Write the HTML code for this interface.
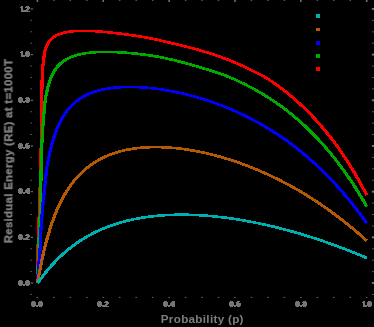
<!DOCTYPE html>
<html><head><meta charset="utf-8"><style>
html,body{margin:0;padding:0;background:#000;}
body{width:374px;height:327px;overflow:hidden;position:relative;}
svg{position:absolute;left:0;top:0;}
.tl{font-family:"Liberation Sans",sans-serif;font-weight:bold;font-size:7.6px;fill:#7e7e7e;stroke:#7e7e7e;stroke-width:1.3px;stroke-linejoin:miter;}
.ax{font-family:"Liberation Sans",sans-serif;font-weight:bold;font-size:12px;fill:#7e7e7e;letter-spacing:0.3px;}
</style></head><body>
<svg width="374" height="327" viewBox="0 0 374 327">
<defs><filter id="bl" x="-5%" y="-20%" width="110%" height="140%"><feGaussianBlur stdDeviation="0.35"/></filter><filter id="bl2" x="-10%" y="-30%" width="120%" height="160%"><feGaussianBlur stdDeviation="0.4"/></filter></defs>
<rect width="374" height="327" fill="#000"/>
<g><rect x="30.4" y="293.92" width="1.7" height="1.0" fill="#5a5a5a"/><rect x="372" y="293.92" width="1.7" height="1.1" fill="#5a5a5a"/><rect x="30.6" y="282.50" width="2.5" height="1.1" fill="#707070"/><rect x="371.8" y="282.00" width="2.2" height="2.0" fill="#707070"/><rect x="30.4" y="271.08" width="1.7" height="1.0" fill="#5a5a5a"/><rect x="372" y="271.08" width="1.7" height="1.1" fill="#5a5a5a"/><rect x="30.4" y="259.66" width="1.7" height="1.0" fill="#5a5a5a"/><rect x="372" y="259.66" width="1.7" height="1.1" fill="#5a5a5a"/><rect x="30.4" y="248.24" width="1.7" height="1.0" fill="#5a5a5a"/><rect x="372" y="248.24" width="1.7" height="1.1" fill="#5a5a5a"/><rect x="30.6" y="236.82" width="2.5" height="1.1" fill="#707070"/><rect x="371.8" y="236.32" width="2.2" height="2.0" fill="#707070"/><rect x="30.4" y="225.40" width="1.7" height="1.0" fill="#5a5a5a"/><rect x="372" y="225.40" width="1.7" height="1.1" fill="#5a5a5a"/><rect x="30.4" y="213.98" width="1.7" height="1.0" fill="#5a5a5a"/><rect x="372" y="213.98" width="1.7" height="1.1" fill="#5a5a5a"/><rect x="30.4" y="202.56" width="1.7" height="1.0" fill="#5a5a5a"/><rect x="372" y="202.56" width="1.7" height="1.1" fill="#5a5a5a"/><rect x="30.6" y="191.14" width="2.5" height="1.1" fill="#707070"/><rect x="371.8" y="190.64" width="2.2" height="2.0" fill="#707070"/><rect x="30.4" y="179.72" width="1.7" height="1.0" fill="#5a5a5a"/><rect x="372" y="179.72" width="1.7" height="1.1" fill="#5a5a5a"/><rect x="30.4" y="168.30" width="1.7" height="1.0" fill="#5a5a5a"/><rect x="372" y="168.30" width="1.7" height="1.1" fill="#5a5a5a"/><rect x="30.4" y="156.88" width="1.7" height="1.0" fill="#5a5a5a"/><rect x="372" y="156.88" width="1.7" height="1.1" fill="#5a5a5a"/><rect x="30.6" y="145.46" width="2.5" height="1.1" fill="#707070"/><rect x="371.8" y="144.96" width="2.2" height="2.0" fill="#707070"/><rect x="30.4" y="134.04" width="1.7" height="1.0" fill="#5a5a5a"/><rect x="372" y="134.04" width="1.7" height="1.1" fill="#5a5a5a"/><rect x="30.4" y="122.62" width="1.7" height="1.0" fill="#5a5a5a"/><rect x="372" y="122.62" width="1.7" height="1.1" fill="#5a5a5a"/><rect x="30.4" y="111.20" width="1.7" height="1.0" fill="#5a5a5a"/><rect x="372" y="111.20" width="1.7" height="1.1" fill="#5a5a5a"/><rect x="30.6" y="99.78" width="2.5" height="1.1" fill="#707070"/><rect x="371.8" y="99.28" width="2.2" height="2.0" fill="#707070"/><rect x="30.4" y="88.36" width="1.7" height="1.0" fill="#5a5a5a"/><rect x="372" y="88.36" width="1.7" height="1.1" fill="#5a5a5a"/><rect x="30.4" y="76.94" width="1.7" height="1.0" fill="#5a5a5a"/><rect x="372" y="76.94" width="1.7" height="1.1" fill="#5a5a5a"/><rect x="30.4" y="65.52" width="1.7" height="1.0" fill="#5a5a5a"/><rect x="372" y="65.52" width="1.7" height="1.1" fill="#5a5a5a"/><rect x="30.6" y="54.10" width="2.5" height="1.1" fill="#707070"/><rect x="371.8" y="53.60" width="2.2" height="2.0" fill="#707070"/><rect x="30.4" y="42.68" width="1.7" height="1.0" fill="#5a5a5a"/><rect x="372" y="42.68" width="1.7" height="1.1" fill="#5a5a5a"/><rect x="30.4" y="31.26" width="1.7" height="1.0" fill="#5a5a5a"/><rect x="372" y="31.26" width="1.7" height="1.1" fill="#5a5a5a"/><rect x="30.4" y="19.84" width="1.7" height="1.0" fill="#5a5a5a"/><rect x="372" y="19.84" width="1.7" height="1.1" fill="#5a5a5a"/><rect x="30.6" y="8.42" width="2.5" height="1.1" fill="#707070"/><rect x="371.8" y="7.92" width="2.2" height="2.0" fill="#707070"/><rect x="36.60" y="296.9" width="1.6" height="1.1" fill="#5a5a5a"/><rect x="36.60" y="0" width="1.6" height="2.0" fill="#707070"/><rect x="53.06" y="296.9" width="1.6" height="1.1" fill="#5a5a5a"/><rect x="53.16" y="0" width="1.4" height="1.0" fill="#5a5a5a"/><rect x="69.53" y="296.9" width="1.6" height="1.1" fill="#5a5a5a"/><rect x="69.63" y="0" width="1.4" height="1.0" fill="#5a5a5a"/><rect x="86.00" y="296.9" width="1.6" height="1.1" fill="#5a5a5a"/><rect x="86.10" y="0" width="1.4" height="1.0" fill="#5a5a5a"/><rect x="102.46" y="296.9" width="1.6" height="1.1" fill="#5a5a5a"/><rect x="102.46" y="0" width="1.6" height="2.0" fill="#707070"/><rect x="118.92" y="296.9" width="1.6" height="1.1" fill="#5a5a5a"/><rect x="119.02" y="0" width="1.4" height="1.0" fill="#5a5a5a"/><rect x="135.39" y="296.9" width="1.6" height="1.1" fill="#5a5a5a"/><rect x="135.49" y="0" width="1.4" height="1.0" fill="#5a5a5a"/><rect x="151.85" y="296.9" width="1.6" height="1.1" fill="#5a5a5a"/><rect x="151.96" y="0" width="1.4" height="1.0" fill="#5a5a5a"/><rect x="168.32" y="296.9" width="1.6" height="1.1" fill="#5a5a5a"/><rect x="168.32" y="0" width="1.6" height="2.0" fill="#707070"/><rect x="184.78" y="296.9" width="1.6" height="1.1" fill="#5a5a5a"/><rect x="184.89" y="0" width="1.4" height="1.0" fill="#5a5a5a"/><rect x="201.25" y="296.9" width="1.6" height="1.1" fill="#5a5a5a"/><rect x="201.35" y="0" width="1.4" height="1.0" fill="#5a5a5a"/><rect x="217.72" y="296.9" width="1.6" height="1.1" fill="#5a5a5a"/><rect x="217.82" y="0" width="1.4" height="1.0" fill="#5a5a5a"/><rect x="234.18" y="296.9" width="1.6" height="1.1" fill="#5a5a5a"/><rect x="234.18" y="0" width="1.6" height="2.0" fill="#707070"/><rect x="250.65" y="296.9" width="1.6" height="1.1" fill="#5a5a5a"/><rect x="250.75" y="0" width="1.4" height="1.0" fill="#5a5a5a"/><rect x="267.11" y="296.9" width="1.6" height="1.1" fill="#5a5a5a"/><rect x="267.21" y="0" width="1.4" height="1.0" fill="#5a5a5a"/><rect x="283.57" y="296.9" width="1.6" height="1.1" fill="#5a5a5a"/><rect x="283.68" y="0" width="1.4" height="1.0" fill="#5a5a5a"/><rect x="300.04" y="296.9" width="1.6" height="1.1" fill="#5a5a5a"/><rect x="300.04" y="0" width="1.6" height="2.0" fill="#707070"/><rect x="316.50" y="296.9" width="1.6" height="1.1" fill="#5a5a5a"/><rect x="316.61" y="0" width="1.4" height="1.0" fill="#5a5a5a"/><rect x="332.97" y="296.9" width="1.6" height="1.1" fill="#5a5a5a"/><rect x="333.07" y="0" width="1.4" height="1.0" fill="#5a5a5a"/><rect x="349.44" y="296.9" width="1.6" height="1.1" fill="#5a5a5a"/><rect x="349.54" y="0" width="1.4" height="1.0" fill="#5a5a5a"/><rect x="365.90" y="296.9" width="1.6" height="1.1" fill="#5a5a5a"/><rect x="365.90" y="0" width="1.6" height="2.0" fill="#707070"/></g>
<path filter="url(#bl2)" fill="#747474" d="M19,280h3v1h-3zM18,281h5v1h-5zM18,282h5v1h-5zM18,283h5v1h-5zM18,284h5v1h-5zM19,285h3v1h-3zM23,284h2v1h-2zM23,285h2v1h-2zM26,280h3v1h-3zM25,281h5v1h-5zM25,282h5v1h-5zM25,283h5v1h-5zM25,284h5v1h-5zM26,285h3v1h-3zM19,234h3v1h-3zM18,235h5v1h-5zM18,236h5v1h-5zM18,237h5v1h-5zM18,238h5v1h-5zM19,239h3v1h-3zM23,238h2v1h-2zM23,239h2v1h-2zM26,234h3v1h-3zM25,235h5v1h-5zM27,236h3v1h-3zM26,237h3v1h-3zM25,238h3v1h-3zM25,239h5v1h-5zM19,188h3v1h-3zM18,189h5v1h-5zM18,190h5v1h-5zM18,191h5v1h-5zM18,192h5v1h-5zM19,193h3v1h-3zM23,192h2v1h-2zM23,193h2v1h-2zM27,188h3v1h-3zM26,189h4v1h-4zM25,190h5v1h-5zM25,191h5v1h-5zM25,192h5v1h-5zM27,193h3v1h-3zM19,143h3v1h-3zM18,144h5v1h-5zM18,145h5v1h-5zM18,146h5v1h-5zM18,147h5v1h-5zM19,148h3v1h-3zM23,147h2v1h-2zM23,148h2v1h-2zM26,143h3v1h-3zM25,144h3v1h-3zM25,145h5v1h-5zM25,146h5v1h-5zM25,147h5v1h-5zM26,148h3v1h-3zM19,97h3v1h-3zM18,98h5v1h-5zM18,99h5v1h-5zM18,100h5v1h-5zM18,101h5v1h-5zM19,102h3v1h-3zM23,101h2v1h-2zM23,102h2v1h-2zM26,97h3v1h-3zM25,98h5v1h-5zM26,99h4v1h-4zM25,100h5v1h-5zM25,101h5v1h-5zM26,102h3v1h-3zM21,51h2v1h-2zM20,52h3v1h-3zM21,53h2v1h-2zM21,54h2v1h-2zM21,55h2v1h-2zM21,56h2v1h-2zM23,55h2v1h-2zM23,56h2v1h-2zM26,51h3v1h-3zM25,52h5v1h-5zM25,53h5v1h-5zM25,54h5v1h-5zM25,55h5v1h-5zM26,56h3v1h-3zM21,6h2v1h-2zM20,7h3v1h-3zM21,8h2v1h-2zM21,9h2v1h-2zM21,10h2v1h-2zM21,11h2v1h-2zM23,10h2v1h-2zM23,11h2v1h-2zM26,6h3v1h-3zM25,7h5v1h-5zM27,8h3v1h-3zM26,9h3v1h-3zM25,10h3v1h-3zM25,11h5v1h-5zM32,301h3v1h-3zM31,302h5v1h-5zM31,303h5v1h-5zM31,304h5v1h-5zM31,305h5v1h-5zM32,306h3v1h-3zM36,305h2v1h-2zM36,306h2v1h-2zM39,301h3v1h-3zM38,302h5v1h-5zM38,303h5v1h-5zM38,304h5v1h-5zM38,305h5v1h-5zM39,306h3v1h-3zM98,301h3v1h-3zM97,302h5v1h-5zM97,303h5v1h-5zM97,304h5v1h-5zM97,305h5v1h-5zM98,306h3v1h-3zM102,305h2v1h-2zM102,306h2v1h-2zM105,301h3v1h-3zM104,302h5v1h-5zM106,303h3v1h-3zM105,304h3v1h-3zM104,305h3v1h-3zM104,306h5v1h-5zM164,301h3v1h-3zM163,302h5v1h-5zM163,303h5v1h-5zM163,304h5v1h-5zM163,305h5v1h-5zM164,306h3v1h-3zM168,305h2v1h-2zM168,306h2v1h-2zM172,301h3v1h-3zM171,302h4v1h-4zM170,303h5v1h-5zM170,304h5v1h-5zM170,305h5v1h-5zM172,306h3v1h-3zM230,301h3v1h-3zM229,302h5v1h-5zM229,303h5v1h-5zM229,304h5v1h-5zM229,305h5v1h-5zM230,306h3v1h-3zM234,305h2v1h-2zM234,306h2v1h-2zM237,301h3v1h-3zM236,302h3v1h-3zM236,303h5v1h-5zM236,304h5v1h-5zM236,305h5v1h-5zM237,306h3v1h-3zM296,301h3v1h-3zM295,302h5v1h-5zM295,303h5v1h-5zM295,304h5v1h-5zM295,305h5v1h-5zM296,306h3v1h-3zM300,305h2v1h-2zM300,306h2v1h-2zM303,301h3v1h-3zM302,302h5v1h-5zM303,303h4v1h-4zM302,304h5v1h-5zM302,305h5v1h-5zM303,306h3v1h-3zM363,301h2v1h-2zM362,302h3v1h-3zM363,303h2v1h-2zM363,304h2v1h-2zM363,305h2v1h-2zM363,306h2v1h-2zM365,305h2v1h-2zM365,306h2v1h-2zM368,301h3v1h-3zM367,302h5v1h-5zM367,303h5v1h-5zM367,304h5v1h-5zM367,305h5v1h-5zM368,306h3v1h-3z"/>
<g fill="none" stroke-width="2.6" stroke-linejoin="round" stroke-linecap="butt" shape-rendering="crispEdges">
<g stroke="#ff0000"><path transform="translate(-0.3,0)" d="M37.40,283.00 L37.90,250.00 L39.20,215.00 L40.50,175.00 L41.30,140.00 L41.50,115.00 L41.70,100.00 L42.10,80.00 L42.90,66.00 L43.70,60.00 L44.68,51.13 L44.93,50.32 L45.18,49.56 L45.42,48.84 L45.67,48.17 L45.92,47.53 L46.17,46.92 L46.42,46.35 L46.67,45.80 L46.92,45.28 L47.17,44.78 L47.42,44.31 L47.67,43.86 L47.92,43.43 L48.16,43.02 L48.41,42.63 L48.66,42.25 L48.91,41.89 L49.16,41.55 L49.41,41.21 L49.66,40.89 L49.91,40.59 L50.16,40.29 L50.41,40.01 L50.66,39.74 L50.90,39.47 L51.15,39.22 L51.40,38.97 L51.65,38.74 L51.90,38.51 L52.15,38.29 L52.40,38.07 L52.65,37.87 L52.90,37.67 L53.15,37.48 L53.39,37.29 L53.64,37.11 L53.89,36.93 L54.14,36.76 L54.39,36.60 L54.64,36.44 L54.89,36.28 L55.14,36.13 L55.39,35.98 L55.64,35.84 L55.89,35.70 L56.13,35.57 L56.38,35.44 L56.63,35.31 L56.88,35.19 L57.13,35.07 L57.38,34.95 L57.63,34.84 L57.88,34.73 L58.13,34.62 L58.38,34.51 L58.62,34.41 L58.87,34.31 L59.12,34.21 L59.37,34.12 L59.62,34.03 L59.87,33.94 L60.12,33.85 L60.37,33.76 L60.62,33.68 L60.87,33.60 L61.12,33.52 L61.36,33.44 L61.61,33.37 L61.86,33.29 L62.11,33.22 L62.36,33.15 L62.61,33.08 L62.86,33.01 L63.11,32.95 L63.36,32.88 L63.61,32.82 L63.85,32.76 L64.10,32.70 L64.35,32.64 L64.60,32.59 L64.85,32.53 L65.10,32.48 L65.35,32.43 L65.60,32.37 L65.85,32.32 L66.10,32.27 L66.35,32.23 L66.59,32.18 L66.84,32.13 L67.09,32.09 L67.34,32.05 L67.59,32.00 L67.84,31.96 L68.09,31.92 L68.34,31.88 L68.59,31.84 L68.84,31.81 L69.08,31.77 L69.33,31.73 L69.58,31.70 L69.83,31.66 L70.08,31.63 L70.33,31.60 L71.82,31.42 L73.31,31.27 L74.80,31.15 L76.29,31.04 L77.78,30.96 L79.27,30.90 L80.76,30.85 L82.24,30.83 L83.73,30.82 L85.22,30.82 L86.71,30.84 L88.20,30.88 L89.69,30.92 L91.18,30.98 L92.67,31.05 L94.16,31.13 L95.65,31.22 L97.14,31.32 L98.63,31.43 L100.12,31.55 L101.61,31.67 L103.09,31.80 L104.58,31.94 L106.07,32.08 L107.56,32.23 L109.05,32.39 L110.54,32.55 L112.03,32.71 L113.52,32.88 L115.01,33.05 L116.50,33.22 L117.99,33.40 L119.48,33.58 L120.97,33.77 L122.46,33.95 L123.94,34.15 L125.43,34.34 L126.92,34.54 L128.41,34.75 L129.90,34.96 L131.39,35.17 L132.88,35.39 L134.37,35.61 L135.86,35.84 L137.35,36.08 L138.84,36.32 L140.33,36.56 L141.82,36.81 L143.31,37.06 L144.79,37.33 L146.28,37.59 L147.77,37.86 L149.26,38.14 L150.75,38.43 L152.24,38.73 L153.73,39.03 L155.22,39.35 L156.71,39.67 L158.20,40.00 L159.69,40.34 L161.18,40.68 L162.67,41.03 L164.16,41.38 L165.64,41.73 L167.13,42.08 L168.62,42.44 L170.11,42.79 L171.60,43.14 L173.09,43.49 L174.58,43.84 L176.07,44.18 L177.56,44.53 L179.05,44.88 L180.54,45.24 L182.03,45.60 L183.52,45.96 L185.01,46.32 L186.50,46.69 L187.98,47.07 L189.47,47.45 L190.96,47.84 L192.45,48.23 L193.94,48.63 L195.43,49.04 L196.92,49.45 L198.41,49.88 L199.90,50.31 L201.39,50.75 L202.88,51.19 L204.37,51.64 L205.86,52.10 L207.35,52.56 L208.83,53.03 L210.32,53.51 L211.81,53.99 L213.30,54.48 L214.79,54.98 L216.28,55.49 L217.77,56.01 L219.26,56.53 L220.75,57.06 L222.24,57.60 L223.73,58.15 L225.22,58.71 L226.71,59.28 L228.20,59.86 L229.68,60.44 L231.17,61.04 L232.66,61.64 L234.15,62.26 L235.64,62.88 L237.13,63.51 L238.62,64.15 L240.11,64.80 L241.60,65.46 L243.09,66.13 L244.58,66.81 L246.07,67.51 L247.56,68.21 L249.05,68.93 L250.53,69.66 L252.02,70.39 L253.51,71.13 L255.00,71.87 L256.49,72.62 L257.98,73.39 L259.47,74.17 L260.96,74.97 L262.45,75.79 L263.94,76.63 L265.43,77.50 L266.92,78.40 L268.41,79.33 L269.90,80.30 L271.39,81.29 L272.87,82.31 L274.36,83.34 L275.85,84.38 L277.34,85.45 L278.83,86.53 L280.32,87.63 L281.81,88.75 L283.30,89.89 L284.79,91.04 L286.28,92.22 L287.77,93.41 L289.26,94.62 L290.75,95.86 L292.24,97.11 L293.72,98.39 L295.21,99.68 L296.70,101.00 L298.19,102.34 L299.68,103.70 L301.17,105.08 L302.66,106.49 L304.15,107.92 L305.64,109.37 L307.13,110.84 L308.62,112.34 L310.11,113.86 L311.60,115.41 L313.09,116.98 L314.57,118.57 L316.06,120.19 L317.55,121.84 L319.04,123.51 L320.53,125.21 L322.02,126.94 L323.51,128.70 L325.00,130.48 L326.49,132.29 L327.98,134.13 L329.47,136.00 L330.96,137.90 L332.45,139.84 L333.94,141.81 L335.42,143.82 L336.91,145.87 L338.40,147.96 L339.89,150.08 L341.38,152.23 L342.87,154.43 L344.36,156.66 L345.85,158.93 L347.34,161.23 L348.83,163.57 L350.32,165.95 L351.81,168.37 L353.30,170.84 L354.79,173.35 L356.27,175.91 L357.76,178.51 L359.25,181.16 L360.74,183.85 L362.23,186.59 L363.72,189.38 L365.21,192.21 L366.70,195.09"/><path transform="translate(0.3,0)" d="M37.40,283.00 L37.90,250.00 L39.20,215.00 L40.50,175.00 L41.30,140.00 L41.50,115.00 L41.70,100.00 L42.10,80.00 L42.90,66.00 L43.70,60.00 L44.68,51.13 L44.93,50.32 L45.18,49.56 L45.42,48.84 L45.67,48.17 L45.92,47.53 L46.17,46.92 L46.42,46.35 L46.67,45.80 L46.92,45.28 L47.17,44.78 L47.42,44.31 L47.67,43.86 L47.92,43.43 L48.16,43.02 L48.41,42.63 L48.66,42.25 L48.91,41.89 L49.16,41.55 L49.41,41.21 L49.66,40.89 L49.91,40.59 L50.16,40.29 L50.41,40.01 L50.66,39.74 L50.90,39.47 L51.15,39.22 L51.40,38.97 L51.65,38.74 L51.90,38.51 L52.15,38.29 L52.40,38.07 L52.65,37.87 L52.90,37.67 L53.15,37.48 L53.39,37.29 L53.64,37.11 L53.89,36.93 L54.14,36.76 L54.39,36.60 L54.64,36.44 L54.89,36.28 L55.14,36.13 L55.39,35.98 L55.64,35.84 L55.89,35.70 L56.13,35.57 L56.38,35.44 L56.63,35.31 L56.88,35.19 L57.13,35.07 L57.38,34.95 L57.63,34.84 L57.88,34.73 L58.13,34.62 L58.38,34.51 L58.62,34.41 L58.87,34.31 L59.12,34.21 L59.37,34.12 L59.62,34.03 L59.87,33.94 L60.12,33.85 L60.37,33.76 L60.62,33.68 L60.87,33.60 L61.12,33.52 L61.36,33.44 L61.61,33.37 L61.86,33.29 L62.11,33.22 L62.36,33.15 L62.61,33.08 L62.86,33.01 L63.11,32.95 L63.36,32.88 L63.61,32.82 L63.85,32.76 L64.10,32.70 L64.35,32.64 L64.60,32.59 L64.85,32.53 L65.10,32.48 L65.35,32.43 L65.60,32.37 L65.85,32.32 L66.10,32.27 L66.35,32.23 L66.59,32.18 L66.84,32.13 L67.09,32.09 L67.34,32.05 L67.59,32.00 L67.84,31.96 L68.09,31.92 L68.34,31.88 L68.59,31.84 L68.84,31.81 L69.08,31.77 L69.33,31.73 L69.58,31.70 L69.83,31.66 L70.08,31.63 L70.33,31.60 L71.82,31.42 L73.31,31.27 L74.80,31.15 L76.29,31.04 L77.78,30.96 L79.27,30.90 L80.76,30.85 L82.24,30.83 L83.73,30.82 L85.22,30.82 L86.71,30.84 L88.20,30.88 L89.69,30.92 L91.18,30.98 L92.67,31.05 L94.16,31.13 L95.65,31.22 L97.14,31.32 L98.63,31.43 L100.12,31.55 L101.61,31.67 L103.09,31.80 L104.58,31.94 L106.07,32.08 L107.56,32.23 L109.05,32.39 L110.54,32.55 L112.03,32.71 L113.52,32.88 L115.01,33.05 L116.50,33.22 L117.99,33.40 L119.48,33.58 L120.97,33.77 L122.46,33.95 L123.94,34.15 L125.43,34.34 L126.92,34.54 L128.41,34.75 L129.90,34.96 L131.39,35.17 L132.88,35.39 L134.37,35.61 L135.86,35.84 L137.35,36.08 L138.84,36.32 L140.33,36.56 L141.82,36.81 L143.31,37.06 L144.79,37.33 L146.28,37.59 L147.77,37.86 L149.26,38.14 L150.75,38.43 L152.24,38.73 L153.73,39.03 L155.22,39.35 L156.71,39.67 L158.20,40.00 L159.69,40.34 L161.18,40.68 L162.67,41.03 L164.16,41.38 L165.64,41.73 L167.13,42.08 L168.62,42.44 L170.11,42.79 L171.60,43.14 L173.09,43.49 L174.58,43.84 L176.07,44.18 L177.56,44.53 L179.05,44.88 L180.54,45.24 L182.03,45.60 L183.52,45.96 L185.01,46.32 L186.50,46.69 L187.98,47.07 L189.47,47.45 L190.96,47.84 L192.45,48.23 L193.94,48.63 L195.43,49.04 L196.92,49.45 L198.41,49.88 L199.90,50.31 L201.39,50.75 L202.88,51.19 L204.37,51.64 L205.86,52.10 L207.35,52.56 L208.83,53.03 L210.32,53.51 L211.81,53.99 L213.30,54.48 L214.79,54.98 L216.28,55.49 L217.77,56.01 L219.26,56.53 L220.75,57.06 L222.24,57.60 L223.73,58.15 L225.22,58.71 L226.71,59.28 L228.20,59.86 L229.68,60.44 L231.17,61.04 L232.66,61.64 L234.15,62.26 L235.64,62.88 L237.13,63.51 L238.62,64.15 L240.11,64.80 L241.60,65.46 L243.09,66.13 L244.58,66.81 L246.07,67.51 L247.56,68.21 L249.05,68.93 L250.53,69.66 L252.02,70.39 L253.51,71.13 L255.00,71.87 L256.49,72.62 L257.98,73.39 L259.47,74.17 L260.96,74.97 L262.45,75.79 L263.94,76.63 L265.43,77.50 L266.92,78.40 L268.41,79.33 L269.90,80.30 L271.39,81.29 L272.87,82.31 L274.36,83.34 L275.85,84.38 L277.34,85.45 L278.83,86.53 L280.32,87.63 L281.81,88.75 L283.30,89.89 L284.79,91.04 L286.28,92.22 L287.77,93.41 L289.26,94.62 L290.75,95.86 L292.24,97.11 L293.72,98.39 L295.21,99.68 L296.70,101.00 L298.19,102.34 L299.68,103.70 L301.17,105.08 L302.66,106.49 L304.15,107.92 L305.64,109.37 L307.13,110.84 L308.62,112.34 L310.11,113.86 L311.60,115.41 L313.09,116.98 L314.57,118.57 L316.06,120.19 L317.55,121.84 L319.04,123.51 L320.53,125.21 L322.02,126.94 L323.51,128.70 L325.00,130.48 L326.49,132.29 L327.98,134.13 L329.47,136.00 L330.96,137.90 L332.45,139.84 L333.94,141.81 L335.42,143.82 L336.91,145.87 L338.40,147.96 L339.89,150.08 L341.38,152.23 L342.87,154.43 L344.36,156.66 L345.85,158.93 L347.34,161.23 L348.83,163.57 L350.32,165.95 L351.81,168.37 L353.30,170.84 L354.79,173.35 L356.27,175.91 L357.76,178.51 L359.25,181.16 L360.74,183.85 L362.23,186.59 L363.72,189.38 L365.21,192.21 L366.70,195.09"/></g>
<g stroke="#00aa00"><path transform="translate(-0.3,0)" d="M37.40,283.00 L38.30,260.00 L39.20,235.00 L40.60,205.00 L41.00,175.00 L41.60,150.00 L42.30,135.00 L43.30,120.00 L45.20,100.00 L46.17,94.88 L46.42,93.64 L46.67,92.45 L46.92,91.32 L47.17,90.23 L47.42,89.19 L47.67,88.18 L47.92,87.22 L48.16,86.29 L48.41,85.40 L48.66,84.55 L48.91,83.72 L49.16,82.92 L49.41,82.15 L49.66,81.41 L49.91,80.69 L50.16,80.00 L50.41,79.33 L50.66,78.68 L50.90,78.06 L51.15,77.45 L51.40,76.86 L51.65,76.29 L51.90,75.74 L52.15,75.20 L52.40,74.68 L52.65,74.18 L52.90,73.69 L53.15,73.21 L53.39,72.75 L53.64,72.30 L53.89,71.86 L54.14,71.44 L54.39,71.02 L54.64,70.62 L54.89,70.23 L55.14,69.85 L55.39,69.47 L55.64,69.11 L55.89,68.76 L56.13,68.41 L56.38,68.08 L56.63,67.75 L56.88,67.43 L57.13,67.11 L57.38,66.81 L57.63,66.51 L57.88,66.22 L58.13,65.94 L58.38,65.66 L58.62,65.39 L58.87,65.12 L59.12,64.86 L59.37,64.61 L59.62,64.36 L59.87,64.12 L60.12,63.88 L60.37,63.65 L60.62,63.42 L60.87,63.20 L61.12,62.98 L61.36,62.77 L61.61,62.56 L61.86,62.35 L62.11,62.15 L62.36,61.96 L62.61,61.76 L62.86,61.58 L63.11,61.39 L63.36,61.21 L63.61,61.03 L63.85,60.86 L64.10,60.69 L64.35,60.52 L64.60,60.36 L64.85,60.19 L65.10,60.04 L65.35,59.88 L65.60,59.73 L65.85,59.58 L66.10,59.43 L66.35,59.29 L66.59,59.15 L66.84,59.01 L67.09,58.87 L67.34,58.74 L67.59,58.61 L67.84,58.48 L68.09,58.35 L68.34,58.23 L68.59,58.11 L68.84,57.99 L69.08,57.87 L69.33,57.75 L69.58,57.64 L69.83,57.53 L70.08,57.42 L70.33,57.31 L71.82,56.71 L73.31,56.16 L74.80,55.67 L76.29,55.22 L77.78,54.82 L79.27,54.45 L80.76,54.12 L82.24,53.82 L83.73,53.56 L85.22,53.31 L86.71,53.10 L88.20,52.91 L89.69,52.73 L91.18,52.58 L92.67,52.45 L94.16,52.33 L95.65,52.23 L97.14,52.15 L98.63,52.08 L100.12,52.02 L101.61,51.98 L103.09,51.95 L104.58,51.93 L106.07,51.93 L107.56,51.93 L109.05,51.94 L110.54,51.97 L112.03,52.00 L113.52,52.04 L115.01,52.10 L116.50,52.16 L117.99,52.23 L119.48,52.30 L120.97,52.39 L122.46,52.48 L123.94,52.58 L125.43,52.69 L126.92,52.80 L128.41,52.93 L129.90,53.06 L131.39,53.19 L132.88,53.34 L134.37,53.49 L135.86,53.64 L137.35,53.81 L138.84,53.98 L140.33,54.15 L141.82,54.34 L143.31,54.53 L144.79,54.72 L146.28,54.92 L147.77,55.13 L149.26,55.35 L150.75,55.57 L152.24,55.80 L153.73,56.04 L155.22,56.29 L156.71,56.55 L158.20,56.82 L159.69,57.10 L161.18,57.39 L162.67,57.69 L164.16,58.00 L165.64,58.31 L167.13,58.63 L168.62,58.96 L170.11,59.30 L171.60,59.65 L173.09,60.00 L174.58,60.36 L176.07,60.72 L177.56,61.10 L179.05,61.48 L180.54,61.86 L182.03,62.25 L183.52,62.65 L185.01,63.05 L186.50,63.46 L187.98,63.87 L189.47,64.29 L190.96,64.72 L192.45,65.14 L193.94,65.58 L195.43,66.01 L196.92,66.45 L198.41,66.90 L199.90,67.35 L201.39,67.80 L202.88,68.25 L204.37,68.69 L205.86,69.14 L207.35,69.58 L208.83,70.03 L210.32,70.48 L211.81,70.94 L213.30,71.41 L214.79,71.88 L216.28,72.36 L217.77,72.85 L219.26,73.35 L220.75,73.86 L222.24,74.39 L223.73,74.94 L225.22,75.50 L226.71,76.07 L228.20,76.67 L229.68,77.29 L231.17,77.92 L232.66,78.57 L234.15,79.23 L235.64,79.90 L237.13,80.58 L238.62,81.26 L240.11,81.97 L241.60,82.68 L243.09,83.40 L244.58,84.14 L246.07,84.88 L247.56,85.64 L249.05,86.41 L250.53,87.20 L252.02,87.99 L253.51,88.80 L255.00,89.62 L256.49,90.46 L257.98,91.30 L259.47,92.16 L260.96,93.04 L262.45,93.93 L263.94,94.83 L265.43,95.74 L266.92,96.68 L268.41,97.62 L269.90,98.58 L271.39,99.56 L272.87,100.55 L274.36,101.55 L275.85,102.57 L277.34,103.61 L278.83,104.66 L280.32,105.73 L281.81,106.82 L283.30,107.93 L284.79,109.05 L286.28,110.18 L287.77,111.34 L289.26,112.51 L290.75,113.71 L292.24,114.92 L293.72,116.14 L295.21,117.39 L296.70,118.66 L298.19,119.95 L299.68,121.25 L301.17,122.58 L302.66,123.93 L304.15,125.30 L305.64,126.69 L307.13,128.10 L308.62,129.53 L310.11,130.98 L311.60,132.46 L313.09,133.96 L314.57,135.48 L316.06,137.03 L317.55,138.60 L319.04,140.19 L320.53,141.81 L322.02,143.45 L323.51,145.12 L325.00,146.81 L326.49,148.53 L327.98,150.28 L329.47,152.05 L330.96,153.85 L332.45,155.68 L333.94,157.53 L335.42,159.41 L336.91,161.33 L338.40,163.27 L339.89,165.24 L341.38,167.24 L342.87,169.27 L344.36,171.34 L345.85,173.43 L347.34,175.56 L348.83,177.72 L350.32,179.91 L351.81,182.13 L353.30,184.39 L354.79,186.69 L356.27,189.01 L357.76,191.38 L359.25,193.78 L360.74,196.22 L362.23,198.69 L363.72,201.20 L365.21,203.75 L366.70,206.34"/><path transform="translate(0.3,0)" d="M37.40,283.00 L38.30,260.00 L39.20,235.00 L40.60,205.00 L41.00,175.00 L41.60,150.00 L42.30,135.00 L43.30,120.00 L45.20,100.00 L46.17,94.88 L46.42,93.64 L46.67,92.45 L46.92,91.32 L47.17,90.23 L47.42,89.19 L47.67,88.18 L47.92,87.22 L48.16,86.29 L48.41,85.40 L48.66,84.55 L48.91,83.72 L49.16,82.92 L49.41,82.15 L49.66,81.41 L49.91,80.69 L50.16,80.00 L50.41,79.33 L50.66,78.68 L50.90,78.06 L51.15,77.45 L51.40,76.86 L51.65,76.29 L51.90,75.74 L52.15,75.20 L52.40,74.68 L52.65,74.18 L52.90,73.69 L53.15,73.21 L53.39,72.75 L53.64,72.30 L53.89,71.86 L54.14,71.44 L54.39,71.02 L54.64,70.62 L54.89,70.23 L55.14,69.85 L55.39,69.47 L55.64,69.11 L55.89,68.76 L56.13,68.41 L56.38,68.08 L56.63,67.75 L56.88,67.43 L57.13,67.11 L57.38,66.81 L57.63,66.51 L57.88,66.22 L58.13,65.94 L58.38,65.66 L58.62,65.39 L58.87,65.12 L59.12,64.86 L59.37,64.61 L59.62,64.36 L59.87,64.12 L60.12,63.88 L60.37,63.65 L60.62,63.42 L60.87,63.20 L61.12,62.98 L61.36,62.77 L61.61,62.56 L61.86,62.35 L62.11,62.15 L62.36,61.96 L62.61,61.76 L62.86,61.58 L63.11,61.39 L63.36,61.21 L63.61,61.03 L63.85,60.86 L64.10,60.69 L64.35,60.52 L64.60,60.36 L64.85,60.19 L65.10,60.04 L65.35,59.88 L65.60,59.73 L65.85,59.58 L66.10,59.43 L66.35,59.29 L66.59,59.15 L66.84,59.01 L67.09,58.87 L67.34,58.74 L67.59,58.61 L67.84,58.48 L68.09,58.35 L68.34,58.23 L68.59,58.11 L68.84,57.99 L69.08,57.87 L69.33,57.75 L69.58,57.64 L69.83,57.53 L70.08,57.42 L70.33,57.31 L71.82,56.71 L73.31,56.16 L74.80,55.67 L76.29,55.22 L77.78,54.82 L79.27,54.45 L80.76,54.12 L82.24,53.82 L83.73,53.56 L85.22,53.31 L86.71,53.10 L88.20,52.91 L89.69,52.73 L91.18,52.58 L92.67,52.45 L94.16,52.33 L95.65,52.23 L97.14,52.15 L98.63,52.08 L100.12,52.02 L101.61,51.98 L103.09,51.95 L104.58,51.93 L106.07,51.93 L107.56,51.93 L109.05,51.94 L110.54,51.97 L112.03,52.00 L113.52,52.04 L115.01,52.10 L116.50,52.16 L117.99,52.23 L119.48,52.30 L120.97,52.39 L122.46,52.48 L123.94,52.58 L125.43,52.69 L126.92,52.80 L128.41,52.93 L129.90,53.06 L131.39,53.19 L132.88,53.34 L134.37,53.49 L135.86,53.64 L137.35,53.81 L138.84,53.98 L140.33,54.15 L141.82,54.34 L143.31,54.53 L144.79,54.72 L146.28,54.92 L147.77,55.13 L149.26,55.35 L150.75,55.57 L152.24,55.80 L153.73,56.04 L155.22,56.29 L156.71,56.55 L158.20,56.82 L159.69,57.10 L161.18,57.39 L162.67,57.69 L164.16,58.00 L165.64,58.31 L167.13,58.63 L168.62,58.96 L170.11,59.30 L171.60,59.65 L173.09,60.00 L174.58,60.36 L176.07,60.72 L177.56,61.10 L179.05,61.48 L180.54,61.86 L182.03,62.25 L183.52,62.65 L185.01,63.05 L186.50,63.46 L187.98,63.87 L189.47,64.29 L190.96,64.72 L192.45,65.14 L193.94,65.58 L195.43,66.01 L196.92,66.45 L198.41,66.90 L199.90,67.35 L201.39,67.80 L202.88,68.25 L204.37,68.69 L205.86,69.14 L207.35,69.58 L208.83,70.03 L210.32,70.48 L211.81,70.94 L213.30,71.41 L214.79,71.88 L216.28,72.36 L217.77,72.85 L219.26,73.35 L220.75,73.86 L222.24,74.39 L223.73,74.94 L225.22,75.50 L226.71,76.07 L228.20,76.67 L229.68,77.29 L231.17,77.92 L232.66,78.57 L234.15,79.23 L235.64,79.90 L237.13,80.58 L238.62,81.26 L240.11,81.97 L241.60,82.68 L243.09,83.40 L244.58,84.14 L246.07,84.88 L247.56,85.64 L249.05,86.41 L250.53,87.20 L252.02,87.99 L253.51,88.80 L255.00,89.62 L256.49,90.46 L257.98,91.30 L259.47,92.16 L260.96,93.04 L262.45,93.93 L263.94,94.83 L265.43,95.74 L266.92,96.68 L268.41,97.62 L269.90,98.58 L271.39,99.56 L272.87,100.55 L274.36,101.55 L275.85,102.57 L277.34,103.61 L278.83,104.66 L280.32,105.73 L281.81,106.82 L283.30,107.93 L284.79,109.05 L286.28,110.18 L287.77,111.34 L289.26,112.51 L290.75,113.71 L292.24,114.92 L293.72,116.14 L295.21,117.39 L296.70,118.66 L298.19,119.95 L299.68,121.25 L301.17,122.58 L302.66,123.93 L304.15,125.30 L305.64,126.69 L307.13,128.10 L308.62,129.53 L310.11,130.98 L311.60,132.46 L313.09,133.96 L314.57,135.48 L316.06,137.03 L317.55,138.60 L319.04,140.19 L320.53,141.81 L322.02,143.45 L323.51,145.12 L325.00,146.81 L326.49,148.53 L327.98,150.28 L329.47,152.05 L330.96,153.85 L332.45,155.68 L333.94,157.53 L335.42,159.41 L336.91,161.33 L338.40,163.27 L339.89,165.24 L341.38,167.24 L342.87,169.27 L344.36,171.34 L345.85,173.43 L347.34,175.56 L348.83,177.72 L350.32,179.91 L351.81,182.13 L353.30,184.39 L354.79,186.69 L356.27,189.01 L357.76,191.38 L359.25,193.78 L360.74,196.22 L362.23,198.69 L363.72,201.20 L365.21,203.75 L366.70,206.34"/></g>
<g stroke="#0000ff"><path transform="translate(-0.3,0)" d="M37.40,283.00 L39.20,260.00 L40.30,245.00 L41.20,225.00 L43.30,200.00 L45.60,180.00 L46.42,170.36 L46.67,168.83 L46.92,167.33 L47.17,165.88 L47.42,164.46 L47.67,163.08 L47.92,161.74 L48.16,160.43 L48.41,159.15 L48.66,157.90 L48.91,156.69 L49.16,155.50 L49.41,154.34 L49.66,153.21 L49.91,152.11 L50.16,151.03 L50.41,149.97 L50.66,148.94 L50.90,147.93 L51.15,146.94 L51.40,145.98 L51.65,145.04 L51.90,144.11 L52.15,143.21 L52.40,142.32 L52.65,141.46 L52.90,140.61 L53.15,139.78 L53.39,138.96 L53.64,138.17 L53.89,137.38 L54.14,136.62 L54.39,135.87 L54.64,135.13 L54.89,134.41 L55.14,133.70 L55.39,133.00 L55.64,132.32 L55.89,131.65 L56.13,130.99 L56.38,130.35 L56.63,129.71 L56.88,129.09 L57.13,128.48 L57.38,127.88 L57.63,127.29 L57.88,126.71 L58.13,126.14 L58.38,125.58 L58.62,125.03 L58.87,124.49 L59.12,123.96 L59.37,123.44 L59.62,122.93 L59.87,122.42 L60.12,121.93 L60.37,121.44 L60.62,120.96 L60.87,120.48 L61.12,120.02 L61.36,119.56 L61.61,119.11 L61.86,118.67 L62.11,118.23 L62.36,117.80 L62.61,117.38 L62.86,116.96 L63.11,116.55 L63.36,116.15 L63.61,115.75 L63.85,115.36 L64.10,114.97 L64.35,114.59 L64.60,114.22 L64.85,113.85 L65.10,113.49 L65.35,113.13 L65.60,112.78 L65.85,112.43 L66.10,112.09 L66.35,111.75 L66.59,111.41 L66.84,111.09 L67.09,110.76 L67.34,110.44 L67.59,110.13 L67.84,109.82 L68.09,109.51 L68.34,109.21 L68.59,108.91 L68.84,108.62 L69.08,108.33 L69.33,108.04 L69.58,107.76 L69.83,107.48 L70.08,107.21 L70.33,106.94 L71.82,105.39 L73.31,103.97 L74.80,102.64 L76.29,101.42 L77.78,100.28 L79.27,99.22 L80.76,98.24 L82.24,97.32 L83.73,96.46 L85.22,95.67 L86.71,94.93 L88.20,94.24 L89.69,93.59 L91.18,92.99 L92.67,92.43 L94.16,91.91 L95.65,91.42 L97.14,90.97 L98.63,90.55 L100.12,90.16 L101.61,89.80 L103.09,89.47 L104.58,89.16 L106.07,88.88 L107.56,88.62 L109.05,88.38 L110.54,88.17 L112.03,87.97 L113.52,87.79 L115.01,87.64 L116.50,87.50 L117.99,87.37 L119.48,87.27 L120.97,87.18 L122.46,87.11 L123.94,87.05 L125.43,87.00 L126.92,86.97 L128.41,86.96 L129.90,86.95 L131.39,86.96 L132.88,86.98 L134.37,87.02 L135.86,87.06 L137.35,87.12 L138.84,87.19 L140.33,87.27 L141.82,87.36 L143.31,87.47 L144.79,87.58 L146.28,87.70 L147.77,87.83 L149.26,87.98 L150.75,88.13 L152.24,88.29 L153.73,88.46 L155.22,88.65 L156.71,88.84 L158.20,89.04 L159.69,89.25 L161.18,89.47 L162.67,89.69 L164.16,89.93 L165.64,90.17 L167.13,90.43 L168.62,90.69 L170.11,90.96 L171.60,91.24 L173.09,91.53 L174.58,91.83 L176.07,92.13 L177.56,92.45 L179.05,92.77 L180.54,93.10 L182.03,93.44 L183.52,93.79 L185.01,94.14 L186.50,94.51 L187.98,94.88 L189.47,95.26 L190.96,95.65 L192.45,96.05 L193.94,96.45 L195.43,96.87 L196.92,97.29 L198.41,97.73 L199.90,98.17 L201.39,98.61 L202.88,99.07 L204.37,99.54 L205.86,100.01 L207.35,100.50 L208.83,100.99 L210.32,101.49 L211.81,102.00 L213.30,102.52 L214.79,103.05 L216.28,103.59 L217.77,104.13 L219.26,104.69 L220.75,105.25 L222.24,105.83 L223.73,106.41 L225.22,107.00 L226.71,107.60 L228.20,108.21 L229.68,108.83 L231.17,109.46 L232.66,110.10 L234.15,110.75 L235.64,111.41 L237.13,112.08 L238.62,112.76 L240.11,113.45 L241.60,114.15 L243.09,114.87 L244.58,115.59 L246.07,116.32 L247.56,117.06 L249.05,117.81 L250.53,118.58 L252.02,119.35 L253.51,120.14 L255.00,120.93 L256.49,121.74 L257.98,122.56 L259.47,123.39 L260.96,124.23 L262.45,125.09 L263.94,125.95 L265.43,126.83 L266.92,127.72 L268.41,128.62 L269.90,129.54 L271.39,130.46 L272.87,131.40 L274.36,132.36 L275.85,133.32 L277.34,134.30 L278.83,135.29 L280.32,136.29 L281.81,137.31 L283.30,138.34 L284.79,139.38 L286.28,140.44 L287.77,141.51 L289.26,142.60 L290.75,143.70 L292.24,144.82 L293.72,145.95 L295.21,147.09 L296.70,148.25 L298.19,149.42 L299.68,150.61 L301.17,151.82 L302.66,153.04 L304.15,154.27 L305.64,155.53 L307.13,156.80 L308.62,158.08 L310.11,159.38 L311.60,160.70 L313.09,162.03 L314.57,163.38 L316.06,164.75 L317.55,166.14 L319.04,167.54 L320.53,168.96 L322.02,170.40 L323.51,171.86 L325.00,173.34 L326.49,174.83 L327.98,176.35 L329.47,177.88 L330.96,179.43 L332.45,181.01 L333.94,182.60 L335.42,184.21 L336.91,185.84 L338.40,187.49 L339.89,189.17 L341.38,190.86 L342.87,192.58 L344.36,194.31 L345.85,196.07 L347.34,197.85 L348.83,199.65 L350.32,201.48 L351.81,203.33 L353.30,205.20 L354.79,207.09 L356.27,209.01 L357.76,210.95 L359.25,212.92 L360.74,214.91 L362.23,216.92 L363.72,218.96 L365.21,221.03 L366.70,223.12"/><path transform="translate(0.3,0)" d="M37.40,283.00 L39.20,260.00 L40.30,245.00 L41.20,225.00 L43.30,200.00 L45.60,180.00 L46.42,170.36 L46.67,168.83 L46.92,167.33 L47.17,165.88 L47.42,164.46 L47.67,163.08 L47.92,161.74 L48.16,160.43 L48.41,159.15 L48.66,157.90 L48.91,156.69 L49.16,155.50 L49.41,154.34 L49.66,153.21 L49.91,152.11 L50.16,151.03 L50.41,149.97 L50.66,148.94 L50.90,147.93 L51.15,146.94 L51.40,145.98 L51.65,145.04 L51.90,144.11 L52.15,143.21 L52.40,142.32 L52.65,141.46 L52.90,140.61 L53.15,139.78 L53.39,138.96 L53.64,138.17 L53.89,137.38 L54.14,136.62 L54.39,135.87 L54.64,135.13 L54.89,134.41 L55.14,133.70 L55.39,133.00 L55.64,132.32 L55.89,131.65 L56.13,130.99 L56.38,130.35 L56.63,129.71 L56.88,129.09 L57.13,128.48 L57.38,127.88 L57.63,127.29 L57.88,126.71 L58.13,126.14 L58.38,125.58 L58.62,125.03 L58.87,124.49 L59.12,123.96 L59.37,123.44 L59.62,122.93 L59.87,122.42 L60.12,121.93 L60.37,121.44 L60.62,120.96 L60.87,120.48 L61.12,120.02 L61.36,119.56 L61.61,119.11 L61.86,118.67 L62.11,118.23 L62.36,117.80 L62.61,117.38 L62.86,116.96 L63.11,116.55 L63.36,116.15 L63.61,115.75 L63.85,115.36 L64.10,114.97 L64.35,114.59 L64.60,114.22 L64.85,113.85 L65.10,113.49 L65.35,113.13 L65.60,112.78 L65.85,112.43 L66.10,112.09 L66.35,111.75 L66.59,111.41 L66.84,111.09 L67.09,110.76 L67.34,110.44 L67.59,110.13 L67.84,109.82 L68.09,109.51 L68.34,109.21 L68.59,108.91 L68.84,108.62 L69.08,108.33 L69.33,108.04 L69.58,107.76 L69.83,107.48 L70.08,107.21 L70.33,106.94 L71.82,105.39 L73.31,103.97 L74.80,102.64 L76.29,101.42 L77.78,100.28 L79.27,99.22 L80.76,98.24 L82.24,97.32 L83.73,96.46 L85.22,95.67 L86.71,94.93 L88.20,94.24 L89.69,93.59 L91.18,92.99 L92.67,92.43 L94.16,91.91 L95.65,91.42 L97.14,90.97 L98.63,90.55 L100.12,90.16 L101.61,89.80 L103.09,89.47 L104.58,89.16 L106.07,88.88 L107.56,88.62 L109.05,88.38 L110.54,88.17 L112.03,87.97 L113.52,87.79 L115.01,87.64 L116.50,87.50 L117.99,87.37 L119.48,87.27 L120.97,87.18 L122.46,87.11 L123.94,87.05 L125.43,87.00 L126.92,86.97 L128.41,86.96 L129.90,86.95 L131.39,86.96 L132.88,86.98 L134.37,87.02 L135.86,87.06 L137.35,87.12 L138.84,87.19 L140.33,87.27 L141.82,87.36 L143.31,87.47 L144.79,87.58 L146.28,87.70 L147.77,87.83 L149.26,87.98 L150.75,88.13 L152.24,88.29 L153.73,88.46 L155.22,88.65 L156.71,88.84 L158.20,89.04 L159.69,89.25 L161.18,89.47 L162.67,89.69 L164.16,89.93 L165.64,90.17 L167.13,90.43 L168.62,90.69 L170.11,90.96 L171.60,91.24 L173.09,91.53 L174.58,91.83 L176.07,92.13 L177.56,92.45 L179.05,92.77 L180.54,93.10 L182.03,93.44 L183.52,93.79 L185.01,94.14 L186.50,94.51 L187.98,94.88 L189.47,95.26 L190.96,95.65 L192.45,96.05 L193.94,96.45 L195.43,96.87 L196.92,97.29 L198.41,97.73 L199.90,98.17 L201.39,98.61 L202.88,99.07 L204.37,99.54 L205.86,100.01 L207.35,100.50 L208.83,100.99 L210.32,101.49 L211.81,102.00 L213.30,102.52 L214.79,103.05 L216.28,103.59 L217.77,104.13 L219.26,104.69 L220.75,105.25 L222.24,105.83 L223.73,106.41 L225.22,107.00 L226.71,107.60 L228.20,108.21 L229.68,108.83 L231.17,109.46 L232.66,110.10 L234.15,110.75 L235.64,111.41 L237.13,112.08 L238.62,112.76 L240.11,113.45 L241.60,114.15 L243.09,114.87 L244.58,115.59 L246.07,116.32 L247.56,117.06 L249.05,117.81 L250.53,118.58 L252.02,119.35 L253.51,120.14 L255.00,120.93 L256.49,121.74 L257.98,122.56 L259.47,123.39 L260.96,124.23 L262.45,125.09 L263.94,125.95 L265.43,126.83 L266.92,127.72 L268.41,128.62 L269.90,129.54 L271.39,130.46 L272.87,131.40 L274.36,132.36 L275.85,133.32 L277.34,134.30 L278.83,135.29 L280.32,136.29 L281.81,137.31 L283.30,138.34 L284.79,139.38 L286.28,140.44 L287.77,141.51 L289.26,142.60 L290.75,143.70 L292.24,144.82 L293.72,145.95 L295.21,147.09 L296.70,148.25 L298.19,149.42 L299.68,150.61 L301.17,151.82 L302.66,153.04 L304.15,154.27 L305.64,155.53 L307.13,156.80 L308.62,158.08 L310.11,159.38 L311.60,160.70 L313.09,162.03 L314.57,163.38 L316.06,164.75 L317.55,166.14 L319.04,167.54 L320.53,168.96 L322.02,170.40 L323.51,171.86 L325.00,173.34 L326.49,174.83 L327.98,176.35 L329.47,177.88 L330.96,179.43 L332.45,181.01 L333.94,182.60 L335.42,184.21 L336.91,185.84 L338.40,187.49 L339.89,189.17 L341.38,190.86 L342.87,192.58 L344.36,194.31 L345.85,196.07 L347.34,197.85 L348.83,199.65 L350.32,201.48 L351.81,203.33 L353.30,205.20 L354.79,207.09 L356.27,209.01 L357.76,210.95 L359.25,212.92 L360.74,214.91 L362.23,216.92 L363.72,218.96 L365.21,221.03 L366.70,223.12"/></g>
<g stroke="#b45a05"><path transform="translate(-0.3,0)" d="M37.40,283.00 L37.46,282.73 L37.51,282.44 L37.57,282.14 L37.62,281.85 L37.68,281.55 L37.73,281.25 L37.79,280.95 L37.85,280.64 L37.90,280.34 L37.96,280.04 L38.01,279.73 L38.07,279.43 L38.13,279.13 L38.18,278.82 L38.24,278.52 L38.29,278.22 L38.35,277.92 L38.40,277.62 L38.46,277.31 L38.52,277.01 L38.57,276.71 L38.63,276.41 L38.68,276.11 L38.74,275.81 L38.80,275.51 L38.85,275.22 L38.91,274.92 L38.96,274.62 L39.02,274.32 L39.07,274.03 L39.13,273.73 L39.19,273.44 L39.24,273.15 L39.30,272.85 L39.35,272.56 L39.41,272.27 L39.47,271.98 L39.52,271.69 L39.58,271.40 L39.63,271.11 L39.69,270.82 L39.74,270.53 L39.80,270.24 L39.86,269.96 L39.91,269.67 L39.97,269.39 L40.02,269.10 L40.08,268.82 L40.13,268.54 L40.19,268.26 L40.25,267.98 L40.30,267.69 L40.36,267.41 L40.41,267.14 L40.47,266.86 L40.53,266.58 L40.58,266.30 L40.64,266.03 L40.69,265.75 L40.94,264.53 L41.19,263.33 L41.44,262.14 L41.69,260.96 L41.94,259.80 L42.19,258.65 L42.44,257.52 L42.69,256.40 L42.93,255.29 L43.18,254.20 L43.43,253.12 L43.68,252.06 L43.93,251.00 L44.18,249.96 L44.43,248.94 L44.68,247.92 L44.93,246.92 L45.18,245.93 L45.42,244.95 L45.67,243.98 L45.92,243.03 L46.17,242.08 L46.42,241.15 L46.67,240.23 L46.92,239.32 L47.17,238.42 L47.42,237.53 L47.67,236.65 L47.92,235.79 L48.16,234.93 L48.41,234.08 L48.66,233.24 L48.91,232.41 L49.16,231.59 L49.41,230.78 L49.66,229.98 L49.91,229.19 L50.16,228.41 L50.41,227.63 L50.66,226.87 L50.90,226.11 L51.15,225.36 L51.40,224.62 L51.65,223.89 L51.90,223.17 L52.15,222.45 L52.40,221.74 L52.65,221.04 L52.90,220.35 L53.15,219.66 L53.39,218.99 L53.64,218.32 L53.89,217.65 L54.14,217.00 L54.39,216.35 L54.64,215.70 L54.89,215.07 L55.14,214.44 L55.39,213.82 L55.64,213.20 L55.89,212.59 L56.13,211.99 L56.38,211.39 L56.63,210.80 L56.88,210.21 L57.13,209.63 L57.38,209.06 L57.63,208.49 L57.88,207.93 L58.13,207.37 L58.38,206.82 L58.62,206.28 L58.87,205.74 L59.12,205.20 L59.37,204.68 L59.62,204.15 L59.87,203.63 L60.12,203.12 L60.37,202.61 L60.62,202.11 L60.87,201.61 L61.12,201.11 L61.36,200.62 L61.61,200.14 L61.86,199.66 L62.11,199.19 L62.36,198.71 L62.61,198.25 L62.86,197.79 L63.11,197.33 L63.36,196.88 L63.61,196.43 L63.85,195.98 L64.10,195.54 L64.35,195.10 L64.60,194.67 L64.85,194.24 L65.10,193.82 L65.35,193.40 L65.60,192.98 L65.85,192.57 L66.10,192.16 L66.35,191.75 L66.59,191.35 L66.84,190.95 L67.09,190.56 L67.34,190.17 L67.59,189.78 L67.84,189.40 L68.09,189.02 L68.34,188.64 L68.59,188.26 L68.84,187.89 L69.08,187.53 L69.33,187.16 L69.58,186.80 L69.83,186.44 L70.08,186.09 L70.33,185.74 L71.82,183.70 L73.31,181.76 L74.80,179.92 L76.29,178.17 L77.78,176.51 L79.27,174.93 L80.76,173.42 L82.24,171.98 L83.73,170.62 L85.22,169.31 L86.71,168.07 L88.20,166.88 L89.69,165.75 L91.18,164.67 L92.67,163.65 L94.16,162.67 L95.65,161.73 L97.14,160.84 L98.63,159.98 L100.12,159.17 L101.61,158.40 L103.09,157.66 L104.58,156.96 L106.07,156.29 L107.56,155.65 L109.05,155.04 L110.54,154.47 L112.03,153.92 L113.52,153.40 L115.01,152.90 L116.50,152.43 L117.99,151.99 L119.48,151.57 L120.97,151.17 L122.46,150.80 L123.94,150.44 L125.43,150.11 L126.92,149.80 L128.41,149.51 L129.90,149.24 L131.39,148.98 L132.88,148.75 L134.37,148.53 L135.86,148.33 L137.35,148.14 L138.84,147.98 L140.33,147.83 L141.82,147.69 L143.31,147.57 L144.79,147.46 L146.28,147.37 L147.77,147.30 L149.26,147.23 L150.75,147.18 L152.24,147.15 L153.73,147.12 L155.22,147.11 L156.71,147.12 L158.20,147.13 L159.69,147.16 L161.18,147.20 L162.67,147.25 L164.16,147.31 L165.64,147.38 L167.13,147.47 L168.62,147.57 L170.11,147.67 L171.60,147.79 L173.09,147.92 L174.58,148.06 L176.07,148.20 L177.56,148.36 L179.05,148.53 L180.54,148.71 L182.03,148.90 L183.52,149.10 L185.01,149.31 L186.50,149.52 L187.98,149.75 L189.47,149.99 L190.96,150.23 L192.45,150.49 L193.94,150.75 L195.43,151.02 L196.92,151.31 L198.41,151.60 L199.90,151.90 L201.39,152.20 L202.88,152.52 L204.37,152.85 L205.86,153.18 L207.35,153.52 L208.83,153.88 L210.32,154.24 L211.81,154.60 L213.30,154.98 L214.79,155.37 L216.28,155.76 L217.77,156.16 L219.26,156.57 L220.75,156.99 L222.24,157.42 L223.73,157.85 L225.22,158.30 L226.71,158.75 L228.20,159.21 L229.68,159.68 L231.17,160.15 L232.66,160.64 L234.15,161.13 L235.64,161.63 L237.13,162.14 L238.62,162.66 L240.11,163.18 L241.60,163.72 L243.09,164.26 L244.58,164.81 L246.07,165.37 L247.56,165.93 L249.05,166.51 L250.53,167.09 L252.02,167.68 L253.51,168.28 L255.00,168.89 L256.49,169.50 L257.98,170.13 L259.47,170.76 L260.96,171.40 L262.45,172.05 L263.94,172.71 L265.43,173.37 L266.92,174.05 L268.41,174.73 L269.90,175.42 L271.39,176.12 L272.87,176.83 L274.36,177.55 L275.85,178.28 L277.34,179.01 L278.83,179.75 L280.32,180.51 L281.81,181.27 L283.30,182.04 L284.79,182.81 L286.28,183.60 L287.77,184.40 L289.26,185.20 L290.75,186.02 L292.24,186.84 L293.72,187.67 L295.21,188.51 L296.70,189.36 L298.19,190.22 L299.68,191.09 L301.17,191.97 L302.66,192.86 L304.15,193.76 L305.64,194.66 L307.13,195.58 L308.62,196.51 L310.11,197.44 L311.60,198.39 L313.09,199.34 L314.57,200.31 L316.06,201.28 L317.55,202.26 L319.04,203.26 L320.53,204.26 L322.02,205.28 L323.51,206.30 L325.00,207.34 L326.49,208.38 L327.98,209.44 L329.47,210.50 L330.96,211.58 L332.45,212.67 L333.94,213.77 L335.42,214.87 L336.91,215.99 L338.40,217.12 L339.89,218.26 L341.38,219.41 L342.87,220.58 L344.36,221.75 L345.85,222.94 L347.34,224.13 L348.83,225.34 L350.32,226.56 L351.81,227.79 L353.30,229.03 L354.79,230.29 L356.27,231.55 L357.76,232.83 L359.25,234.12 L360.74,235.42 L362.23,236.73 L363.72,238.06 L365.21,239.39 L366.70,240.74"/><path transform="translate(0.3,0)" d="M37.40,283.00 L37.46,282.73 L37.51,282.44 L37.57,282.14 L37.62,281.85 L37.68,281.55 L37.73,281.25 L37.79,280.95 L37.85,280.64 L37.90,280.34 L37.96,280.04 L38.01,279.73 L38.07,279.43 L38.13,279.13 L38.18,278.82 L38.24,278.52 L38.29,278.22 L38.35,277.92 L38.40,277.62 L38.46,277.31 L38.52,277.01 L38.57,276.71 L38.63,276.41 L38.68,276.11 L38.74,275.81 L38.80,275.51 L38.85,275.22 L38.91,274.92 L38.96,274.62 L39.02,274.32 L39.07,274.03 L39.13,273.73 L39.19,273.44 L39.24,273.15 L39.30,272.85 L39.35,272.56 L39.41,272.27 L39.47,271.98 L39.52,271.69 L39.58,271.40 L39.63,271.11 L39.69,270.82 L39.74,270.53 L39.80,270.24 L39.86,269.96 L39.91,269.67 L39.97,269.39 L40.02,269.10 L40.08,268.82 L40.13,268.54 L40.19,268.26 L40.25,267.98 L40.30,267.69 L40.36,267.41 L40.41,267.14 L40.47,266.86 L40.53,266.58 L40.58,266.30 L40.64,266.03 L40.69,265.75 L40.94,264.53 L41.19,263.33 L41.44,262.14 L41.69,260.96 L41.94,259.80 L42.19,258.65 L42.44,257.52 L42.69,256.40 L42.93,255.29 L43.18,254.20 L43.43,253.12 L43.68,252.06 L43.93,251.00 L44.18,249.96 L44.43,248.94 L44.68,247.92 L44.93,246.92 L45.18,245.93 L45.42,244.95 L45.67,243.98 L45.92,243.03 L46.17,242.08 L46.42,241.15 L46.67,240.23 L46.92,239.32 L47.17,238.42 L47.42,237.53 L47.67,236.65 L47.92,235.79 L48.16,234.93 L48.41,234.08 L48.66,233.24 L48.91,232.41 L49.16,231.59 L49.41,230.78 L49.66,229.98 L49.91,229.19 L50.16,228.41 L50.41,227.63 L50.66,226.87 L50.90,226.11 L51.15,225.36 L51.40,224.62 L51.65,223.89 L51.90,223.17 L52.15,222.45 L52.40,221.74 L52.65,221.04 L52.90,220.35 L53.15,219.66 L53.39,218.99 L53.64,218.32 L53.89,217.65 L54.14,217.00 L54.39,216.35 L54.64,215.70 L54.89,215.07 L55.14,214.44 L55.39,213.82 L55.64,213.20 L55.89,212.59 L56.13,211.99 L56.38,211.39 L56.63,210.80 L56.88,210.21 L57.13,209.63 L57.38,209.06 L57.63,208.49 L57.88,207.93 L58.13,207.37 L58.38,206.82 L58.62,206.28 L58.87,205.74 L59.12,205.20 L59.37,204.68 L59.62,204.15 L59.87,203.63 L60.12,203.12 L60.37,202.61 L60.62,202.11 L60.87,201.61 L61.12,201.11 L61.36,200.62 L61.61,200.14 L61.86,199.66 L62.11,199.19 L62.36,198.71 L62.61,198.25 L62.86,197.79 L63.11,197.33 L63.36,196.88 L63.61,196.43 L63.85,195.98 L64.10,195.54 L64.35,195.10 L64.60,194.67 L64.85,194.24 L65.10,193.82 L65.35,193.40 L65.60,192.98 L65.85,192.57 L66.10,192.16 L66.35,191.75 L66.59,191.35 L66.84,190.95 L67.09,190.56 L67.34,190.17 L67.59,189.78 L67.84,189.40 L68.09,189.02 L68.34,188.64 L68.59,188.26 L68.84,187.89 L69.08,187.53 L69.33,187.16 L69.58,186.80 L69.83,186.44 L70.08,186.09 L70.33,185.74 L71.82,183.70 L73.31,181.76 L74.80,179.92 L76.29,178.17 L77.78,176.51 L79.27,174.93 L80.76,173.42 L82.24,171.98 L83.73,170.62 L85.22,169.31 L86.71,168.07 L88.20,166.88 L89.69,165.75 L91.18,164.67 L92.67,163.65 L94.16,162.67 L95.65,161.73 L97.14,160.84 L98.63,159.98 L100.12,159.17 L101.61,158.40 L103.09,157.66 L104.58,156.96 L106.07,156.29 L107.56,155.65 L109.05,155.04 L110.54,154.47 L112.03,153.92 L113.52,153.40 L115.01,152.90 L116.50,152.43 L117.99,151.99 L119.48,151.57 L120.97,151.17 L122.46,150.80 L123.94,150.44 L125.43,150.11 L126.92,149.80 L128.41,149.51 L129.90,149.24 L131.39,148.98 L132.88,148.75 L134.37,148.53 L135.86,148.33 L137.35,148.14 L138.84,147.98 L140.33,147.83 L141.82,147.69 L143.31,147.57 L144.79,147.46 L146.28,147.37 L147.77,147.30 L149.26,147.23 L150.75,147.18 L152.24,147.15 L153.73,147.12 L155.22,147.11 L156.71,147.12 L158.20,147.13 L159.69,147.16 L161.18,147.20 L162.67,147.25 L164.16,147.31 L165.64,147.38 L167.13,147.47 L168.62,147.57 L170.11,147.67 L171.60,147.79 L173.09,147.92 L174.58,148.06 L176.07,148.20 L177.56,148.36 L179.05,148.53 L180.54,148.71 L182.03,148.90 L183.52,149.10 L185.01,149.31 L186.50,149.52 L187.98,149.75 L189.47,149.99 L190.96,150.23 L192.45,150.49 L193.94,150.75 L195.43,151.02 L196.92,151.31 L198.41,151.60 L199.90,151.90 L201.39,152.20 L202.88,152.52 L204.37,152.85 L205.86,153.18 L207.35,153.52 L208.83,153.88 L210.32,154.24 L211.81,154.60 L213.30,154.98 L214.79,155.37 L216.28,155.76 L217.77,156.16 L219.26,156.57 L220.75,156.99 L222.24,157.42 L223.73,157.85 L225.22,158.30 L226.71,158.75 L228.20,159.21 L229.68,159.68 L231.17,160.15 L232.66,160.64 L234.15,161.13 L235.64,161.63 L237.13,162.14 L238.62,162.66 L240.11,163.18 L241.60,163.72 L243.09,164.26 L244.58,164.81 L246.07,165.37 L247.56,165.93 L249.05,166.51 L250.53,167.09 L252.02,167.68 L253.51,168.28 L255.00,168.89 L256.49,169.50 L257.98,170.13 L259.47,170.76 L260.96,171.40 L262.45,172.05 L263.94,172.71 L265.43,173.37 L266.92,174.05 L268.41,174.73 L269.90,175.42 L271.39,176.12 L272.87,176.83 L274.36,177.55 L275.85,178.28 L277.34,179.01 L278.83,179.75 L280.32,180.51 L281.81,181.27 L283.30,182.04 L284.79,182.81 L286.28,183.60 L287.77,184.40 L289.26,185.20 L290.75,186.02 L292.24,186.84 L293.72,187.67 L295.21,188.51 L296.70,189.36 L298.19,190.22 L299.68,191.09 L301.17,191.97 L302.66,192.86 L304.15,193.76 L305.64,194.66 L307.13,195.58 L308.62,196.51 L310.11,197.44 L311.60,198.39 L313.09,199.34 L314.57,200.31 L316.06,201.28 L317.55,202.26 L319.04,203.26 L320.53,204.26 L322.02,205.28 L323.51,206.30 L325.00,207.34 L326.49,208.38 L327.98,209.44 L329.47,210.50 L330.96,211.58 L332.45,212.67 L333.94,213.77 L335.42,214.87 L336.91,215.99 L338.40,217.12 L339.89,218.26 L341.38,219.41 L342.87,220.58 L344.36,221.75 L345.85,222.94 L347.34,224.13 L348.83,225.34 L350.32,226.56 L351.81,227.79 L353.30,229.03 L354.79,230.29 L356.27,231.55 L357.76,232.83 L359.25,234.12 L360.74,235.42 L362.23,236.73 L363.72,238.06 L365.21,239.39 L366.70,240.74"/></g>
<g stroke="#00b0b0"><path transform="translate(-0.3,0)" d="M37.40,283.00 L37.46,282.94 L37.51,282.88 L37.57,282.82 L37.62,282.75 L37.68,282.69 L37.73,282.62 L37.79,282.55 L37.85,282.48 L37.90,282.41 L37.96,282.34 L38.01,282.28 L38.07,282.21 L38.13,282.14 L38.18,282.06 L38.24,281.99 L38.29,281.92 L38.35,281.85 L38.40,281.78 L38.46,281.71 L38.52,281.64 L38.57,281.57 L38.63,281.50 L38.68,281.42 L38.74,281.35 L38.80,281.28 L38.85,281.21 L38.91,281.14 L38.96,281.06 L39.02,280.99 L39.07,280.92 L39.13,280.85 L39.19,280.77 L39.24,280.70 L39.30,280.63 L39.35,280.56 L39.41,280.48 L39.47,280.41 L39.52,280.34 L39.58,280.27 L39.63,280.19 L39.69,280.12 L39.74,280.05 L39.80,279.98 L39.86,279.90 L39.91,279.83 L39.97,279.76 L40.02,279.68 L40.08,279.61 L40.13,279.54 L40.19,279.47 L40.25,279.39 L40.30,279.32 L40.36,279.25 L40.41,279.17 L40.47,279.10 L40.53,279.03 L40.58,278.96 L40.64,278.88 L40.69,278.81 L40.94,278.49 L41.19,278.16 L41.44,277.84 L41.69,277.52 L41.94,277.20 L42.19,276.87 L42.44,276.55 L42.69,276.24 L42.93,275.92 L43.18,275.60 L43.43,275.28 L43.68,274.97 L43.93,274.65 L44.18,274.34 L44.43,274.03 L44.68,273.72 L44.93,273.41 L45.18,273.10 L45.42,272.79 L45.67,272.48 L45.92,272.18 L46.17,271.87 L46.42,271.57 L46.67,271.27 L46.92,270.96 L47.17,270.66 L47.42,270.37 L47.67,270.07 L47.92,269.77 L48.16,269.48 L48.41,269.18 L48.66,268.89 L48.91,268.60 L49.16,268.31 L49.41,268.02 L49.66,267.73 L49.91,267.45 L50.16,267.16 L50.41,266.88 L50.66,266.60 L50.90,266.31 L51.15,266.03 L51.40,265.76 L51.65,265.48 L51.90,265.20 L52.15,264.93 L52.40,264.65 L52.65,264.38 L52.90,264.11 L53.15,263.84 L53.39,263.57 L53.64,263.30 L53.89,263.03 L54.14,262.77 L54.39,262.50 L54.64,262.24 L54.89,261.98 L55.14,261.71 L55.39,261.46 L55.64,261.20 L55.89,260.94 L56.13,260.68 L56.38,260.43 L56.63,260.17 L56.88,259.92 L57.13,259.67 L57.38,259.42 L57.63,259.17 L57.88,258.92 L58.13,258.67 L58.38,258.43 L58.62,258.18 L58.87,257.94 L59.12,257.70 L59.37,257.45 L59.62,257.21 L59.87,256.97 L60.12,256.74 L60.37,256.50 L60.62,256.26 L60.87,256.03 L61.12,255.79 L61.36,255.56 L61.61,255.33 L61.86,255.10 L62.11,254.87 L62.36,254.64 L62.61,254.41 L62.86,254.19 L63.11,253.96 L63.36,253.74 L63.61,253.51 L63.85,253.29 L64.10,253.07 L64.35,252.85 L64.60,252.63 L64.85,252.41 L65.10,252.20 L65.35,251.98 L65.60,251.76 L65.85,251.55 L66.10,251.34 L66.35,251.13 L66.59,250.91 L66.84,250.70 L67.09,250.49 L67.34,250.29 L67.59,250.08 L67.84,249.87 L68.09,249.67 L68.34,249.46 L68.59,249.26 L68.84,249.06 L69.08,248.86 L69.33,248.65 L69.58,248.46 L69.83,248.26 L70.08,248.06 L70.33,247.86 L71.82,246.70 L73.31,245.58 L74.80,244.48 L76.29,243.42 L77.78,242.38 L79.27,241.37 L80.76,240.40 L82.24,239.44 L83.73,238.52 L85.22,237.62 L86.71,236.75 L88.20,235.90 L89.69,235.07 L91.18,234.27 L92.67,233.49 L94.16,232.74 L95.65,232.00 L97.14,231.29 L98.63,230.60 L100.12,229.92 L101.61,229.27 L103.09,228.64 L104.58,228.02 L106.07,227.43 L107.56,226.85 L109.05,226.29 L110.54,225.75 L112.03,225.22 L113.52,224.71 L115.01,224.22 L116.50,223.74 L117.99,223.28 L119.48,222.83 L120.97,222.40 L122.46,221.98 L123.94,221.58 L125.43,221.19 L126.92,220.82 L128.41,220.46 L129.90,220.11 L131.39,219.77 L132.88,219.45 L134.37,219.14 L135.86,218.84 L137.35,218.56 L138.84,218.28 L140.33,218.02 L141.82,217.77 L143.31,217.53 L144.79,217.30 L146.28,217.08 L147.77,216.88 L149.26,216.68 L150.75,216.49 L152.24,216.32 L153.73,216.15 L155.22,215.99 L156.71,215.85 L158.20,215.71 L159.69,215.58 L161.18,215.47 L162.67,215.36 L164.16,215.26 L165.64,215.16 L167.13,215.08 L168.62,215.01 L170.11,214.94 L171.60,214.89 L173.09,214.84 L174.58,214.80 L176.07,214.76 L177.56,214.74 L179.05,214.72 L180.54,214.71 L182.03,214.71 L183.52,214.72 L185.01,214.73 L186.50,214.76 L187.98,214.78 L189.47,214.82 L190.96,214.86 L192.45,214.91 L193.94,214.97 L195.43,215.03 L196.92,215.10 L198.41,215.18 L199.90,215.27 L201.39,215.36 L202.88,215.45 L204.37,215.56 L205.86,215.67 L207.35,215.79 L208.83,215.91 L210.32,216.04 L211.81,216.17 L213.30,216.31 L214.79,216.46 L216.28,216.62 L217.77,216.78 L219.26,216.94 L220.75,217.11 L222.24,217.29 L223.73,217.47 L225.22,217.66 L226.71,217.86 L228.20,218.06 L229.68,218.26 L231.17,218.47 L232.66,218.69 L234.15,218.91 L235.64,219.14 L237.13,219.38 L238.62,219.61 L240.11,219.86 L241.60,220.11 L243.09,220.36 L244.58,220.62 L246.07,220.89 L247.56,221.16 L249.05,221.43 L250.53,221.71 L252.02,222.00 L253.51,222.29 L255.00,222.59 L256.49,222.89 L257.98,223.19 L259.47,223.50 L260.96,223.82 L262.45,224.14 L263.94,224.47 L265.43,224.80 L266.92,225.13 L268.41,225.47 L269.90,225.82 L271.39,226.17 L272.87,226.52 L274.36,226.88 L275.85,227.24 L277.34,227.61 L278.83,227.99 L280.32,228.36 L281.81,228.75 L283.30,229.13 L284.79,229.53 L286.28,229.92 L287.77,230.32 L289.26,230.73 L290.75,231.14 L292.24,231.56 L293.72,231.98 L295.21,232.40 L296.70,232.83 L298.19,233.26 L299.68,233.70 L301.17,234.14 L302.66,234.59 L304.15,235.04 L305.64,235.50 L307.13,235.96 L308.62,236.42 L310.11,236.89 L311.60,237.36 L313.09,237.84 L314.57,238.32 L316.06,238.81 L317.55,239.30 L319.04,239.80 L320.53,240.30 L322.02,240.80 L323.51,241.31 L325.00,241.82 L326.49,242.34 L327.98,242.86 L329.47,243.39 L330.96,243.92 L332.45,244.46 L333.94,245.00 L335.42,245.54 L336.91,246.09 L338.40,246.64 L339.89,247.20 L341.38,247.76 L342.87,248.33 L344.36,248.90 L345.85,249.47 L347.34,250.05 L348.83,250.63 L350.32,251.22 L351.81,251.81 L353.30,252.41 L354.79,253.01 L356.27,253.62 L357.76,254.22 L359.25,254.84 L360.74,255.46 L362.23,256.08 L363.72,256.71 L365.21,257.34 L366.70,257.97"/><path transform="translate(0.3,0)" d="M37.40,283.00 L37.46,282.94 L37.51,282.88 L37.57,282.82 L37.62,282.75 L37.68,282.69 L37.73,282.62 L37.79,282.55 L37.85,282.48 L37.90,282.41 L37.96,282.34 L38.01,282.28 L38.07,282.21 L38.13,282.14 L38.18,282.06 L38.24,281.99 L38.29,281.92 L38.35,281.85 L38.40,281.78 L38.46,281.71 L38.52,281.64 L38.57,281.57 L38.63,281.50 L38.68,281.42 L38.74,281.35 L38.80,281.28 L38.85,281.21 L38.91,281.14 L38.96,281.06 L39.02,280.99 L39.07,280.92 L39.13,280.85 L39.19,280.77 L39.24,280.70 L39.30,280.63 L39.35,280.56 L39.41,280.48 L39.47,280.41 L39.52,280.34 L39.58,280.27 L39.63,280.19 L39.69,280.12 L39.74,280.05 L39.80,279.98 L39.86,279.90 L39.91,279.83 L39.97,279.76 L40.02,279.68 L40.08,279.61 L40.13,279.54 L40.19,279.47 L40.25,279.39 L40.30,279.32 L40.36,279.25 L40.41,279.17 L40.47,279.10 L40.53,279.03 L40.58,278.96 L40.64,278.88 L40.69,278.81 L40.94,278.49 L41.19,278.16 L41.44,277.84 L41.69,277.52 L41.94,277.20 L42.19,276.87 L42.44,276.55 L42.69,276.24 L42.93,275.92 L43.18,275.60 L43.43,275.28 L43.68,274.97 L43.93,274.65 L44.18,274.34 L44.43,274.03 L44.68,273.72 L44.93,273.41 L45.18,273.10 L45.42,272.79 L45.67,272.48 L45.92,272.18 L46.17,271.87 L46.42,271.57 L46.67,271.27 L46.92,270.96 L47.17,270.66 L47.42,270.37 L47.67,270.07 L47.92,269.77 L48.16,269.48 L48.41,269.18 L48.66,268.89 L48.91,268.60 L49.16,268.31 L49.41,268.02 L49.66,267.73 L49.91,267.45 L50.16,267.16 L50.41,266.88 L50.66,266.60 L50.90,266.31 L51.15,266.03 L51.40,265.76 L51.65,265.48 L51.90,265.20 L52.15,264.93 L52.40,264.65 L52.65,264.38 L52.90,264.11 L53.15,263.84 L53.39,263.57 L53.64,263.30 L53.89,263.03 L54.14,262.77 L54.39,262.50 L54.64,262.24 L54.89,261.98 L55.14,261.71 L55.39,261.46 L55.64,261.20 L55.89,260.94 L56.13,260.68 L56.38,260.43 L56.63,260.17 L56.88,259.92 L57.13,259.67 L57.38,259.42 L57.63,259.17 L57.88,258.92 L58.13,258.67 L58.38,258.43 L58.62,258.18 L58.87,257.94 L59.12,257.70 L59.37,257.45 L59.62,257.21 L59.87,256.97 L60.12,256.74 L60.37,256.50 L60.62,256.26 L60.87,256.03 L61.12,255.79 L61.36,255.56 L61.61,255.33 L61.86,255.10 L62.11,254.87 L62.36,254.64 L62.61,254.41 L62.86,254.19 L63.11,253.96 L63.36,253.74 L63.61,253.51 L63.85,253.29 L64.10,253.07 L64.35,252.85 L64.60,252.63 L64.85,252.41 L65.10,252.20 L65.35,251.98 L65.60,251.76 L65.85,251.55 L66.10,251.34 L66.35,251.13 L66.59,250.91 L66.84,250.70 L67.09,250.49 L67.34,250.29 L67.59,250.08 L67.84,249.87 L68.09,249.67 L68.34,249.46 L68.59,249.26 L68.84,249.06 L69.08,248.86 L69.33,248.65 L69.58,248.46 L69.83,248.26 L70.08,248.06 L70.33,247.86 L71.82,246.70 L73.31,245.58 L74.80,244.48 L76.29,243.42 L77.78,242.38 L79.27,241.37 L80.76,240.40 L82.24,239.44 L83.73,238.52 L85.22,237.62 L86.71,236.75 L88.20,235.90 L89.69,235.07 L91.18,234.27 L92.67,233.49 L94.16,232.74 L95.65,232.00 L97.14,231.29 L98.63,230.60 L100.12,229.92 L101.61,229.27 L103.09,228.64 L104.58,228.02 L106.07,227.43 L107.56,226.85 L109.05,226.29 L110.54,225.75 L112.03,225.22 L113.52,224.71 L115.01,224.22 L116.50,223.74 L117.99,223.28 L119.48,222.83 L120.97,222.40 L122.46,221.98 L123.94,221.58 L125.43,221.19 L126.92,220.82 L128.41,220.46 L129.90,220.11 L131.39,219.77 L132.88,219.45 L134.37,219.14 L135.86,218.84 L137.35,218.56 L138.84,218.28 L140.33,218.02 L141.82,217.77 L143.31,217.53 L144.79,217.30 L146.28,217.08 L147.77,216.88 L149.26,216.68 L150.75,216.49 L152.24,216.32 L153.73,216.15 L155.22,215.99 L156.71,215.85 L158.20,215.71 L159.69,215.58 L161.18,215.47 L162.67,215.36 L164.16,215.26 L165.64,215.16 L167.13,215.08 L168.62,215.01 L170.11,214.94 L171.60,214.89 L173.09,214.84 L174.58,214.80 L176.07,214.76 L177.56,214.74 L179.05,214.72 L180.54,214.71 L182.03,214.71 L183.52,214.72 L185.01,214.73 L186.50,214.76 L187.98,214.78 L189.47,214.82 L190.96,214.86 L192.45,214.91 L193.94,214.97 L195.43,215.03 L196.92,215.10 L198.41,215.18 L199.90,215.27 L201.39,215.36 L202.88,215.45 L204.37,215.56 L205.86,215.67 L207.35,215.79 L208.83,215.91 L210.32,216.04 L211.81,216.17 L213.30,216.31 L214.79,216.46 L216.28,216.62 L217.77,216.78 L219.26,216.94 L220.75,217.11 L222.24,217.29 L223.73,217.47 L225.22,217.66 L226.71,217.86 L228.20,218.06 L229.68,218.26 L231.17,218.47 L232.66,218.69 L234.15,218.91 L235.64,219.14 L237.13,219.38 L238.62,219.61 L240.11,219.86 L241.60,220.11 L243.09,220.36 L244.58,220.62 L246.07,220.89 L247.56,221.16 L249.05,221.43 L250.53,221.71 L252.02,222.00 L253.51,222.29 L255.00,222.59 L256.49,222.89 L257.98,223.19 L259.47,223.50 L260.96,223.82 L262.45,224.14 L263.94,224.47 L265.43,224.80 L266.92,225.13 L268.41,225.47 L269.90,225.82 L271.39,226.17 L272.87,226.52 L274.36,226.88 L275.85,227.24 L277.34,227.61 L278.83,227.99 L280.32,228.36 L281.81,228.75 L283.30,229.13 L284.79,229.53 L286.28,229.92 L287.77,230.32 L289.26,230.73 L290.75,231.14 L292.24,231.56 L293.72,231.98 L295.21,232.40 L296.70,232.83 L298.19,233.26 L299.68,233.70 L301.17,234.14 L302.66,234.59 L304.15,235.04 L305.64,235.50 L307.13,235.96 L308.62,236.42 L310.11,236.89 L311.60,237.36 L313.09,237.84 L314.57,238.32 L316.06,238.81 L317.55,239.30 L319.04,239.80 L320.53,240.30 L322.02,240.80 L323.51,241.31 L325.00,241.82 L326.49,242.34 L327.98,242.86 L329.47,243.39 L330.96,243.92 L332.45,244.46 L333.94,245.00 L335.42,245.54 L336.91,246.09 L338.40,246.64 L339.89,247.20 L341.38,247.76 L342.87,248.33 L344.36,248.90 L345.85,249.47 L347.34,250.05 L348.83,250.63 L350.32,251.22 L351.81,251.81 L353.30,252.41 L354.79,253.01 L356.27,253.62 L357.76,254.22 L359.25,254.84 L360.74,255.46 L362.23,256.08 L363.72,256.71 L365.21,257.34 L366.70,257.97"/></g>
</g>
<g><rect x="316" y="14" width="4" height="4" fill="#00b0b0"/><rect x="316" y="28" width="4" height="3" fill="#b45a05"/><rect x="316" y="41" width="4" height="4" fill="#0000ff"/><rect x="316" y="54" width="4" height="4" fill="#00aa00"/><rect x="316" y="67" width="4" height="4" fill="#ff0000"/></g>
<text class="ax" filter="url(#bl)" style="font-size:11.7px" x="202.3" y="323" text-anchor="middle">Probability (p)</text>
<text class="ax" filter="url(#bl)" style="font-size:11.4px;stroke:#7e7e7e;stroke-width:0.35px" transform="translate(12.3,151.0) rotate(-90)" x="0" y="0" text-anchor="middle">Residual Energy (RE) at t=1000T</text>
</svg>
</body></html>
